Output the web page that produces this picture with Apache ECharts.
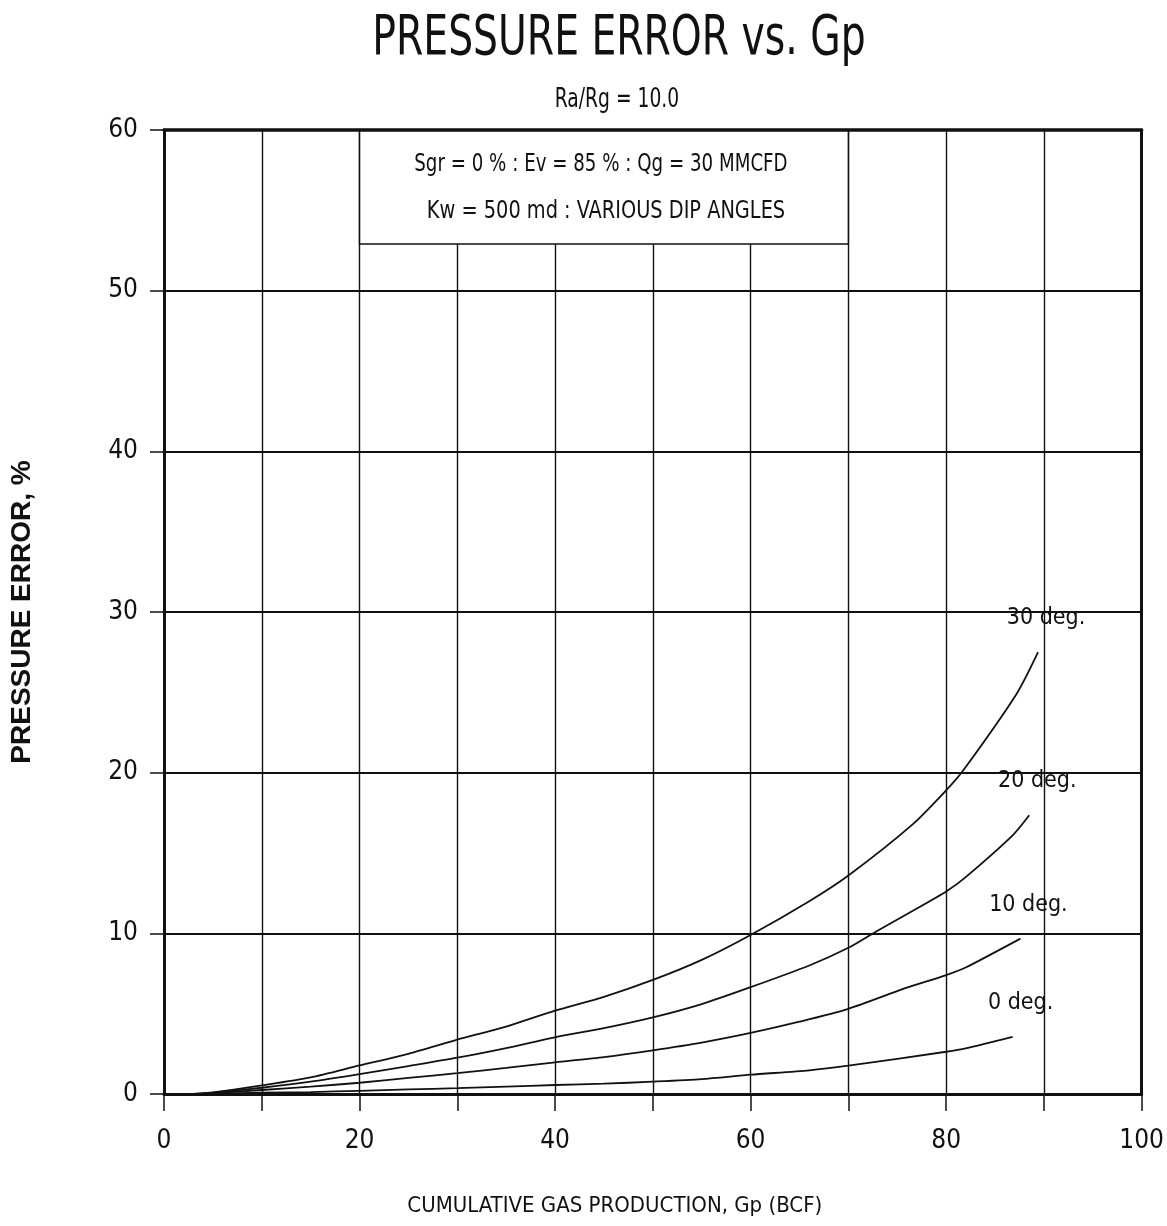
<!DOCTYPE html>
<html>
<head>
<meta charset="utf-8">
<script src="https://cdn.jsdelivr.net/npm/echarts@6/dist/echarts.min.js"></script>
<style>
  html, body { margin: 0; padding: 0; background: #fff; }
  #chart { width: 1167px; height: 1226px; }
</style>
</head>
<body>
<div id="chart"></div>
<script>
// Pressure error (%) against cumulative gas production Gp (BCF), one curve per dip angle.
const dip30 = [[3,0],[5,0.1],[10,0.54],[15,1.04],[20,1.78],[25,2.5],[30,3.38],[35,4.2],[40,5.19],[45,6.05],[50,7.1],[55,8.35],[60,9.9],[66,12.0],[70,13.6],[76.6,16.8],[80,18.9],[81.7,20.1],[87.2,24.9],[89.4,27.5]];
const dip20 = [[3,0],[5,0.08],[10,0.39],[15,0.77],[20,1.24],[25,1.74],[30,2.26],[35,2.86],[40,3.53],[45,4.1],[50,4.77],[55,5.6],[60,6.65],[66,8.0],[70,9.1],[72.8,10.1],[76.6,11.4],[80,12.6],[82,13.5],[86.8,16.1],[88.5,17.35]];
const dip10 = [[3,0],[5,0.05],[10,0.25],[15,0.46],[20,0.7],[25,1.0],[30,1.3],[35,1.62],[40,1.97],[45,2.3],[50,2.72],[55,3.2],[60,3.8],[65,4.5],[70,5.3],[75.9,6.6],[80,7.4],[82,7.87],[87.6,9.67]];
const dip0  = [[3,0],[5,0.02],[10,0.08],[15,0.12],[20,0.2],[25,0.29],[30,0.36],[35,0.46],[40,0.56],[45,0.64],[50,0.77],[55,0.93],[60,1.2],[66,1.47],[70,1.76],[80,2.63],[82,2.84],[86.8,3.56]];

const curveNames = ['30 deg.', '20 deg.', '10 deg.', '0 deg.'];
const curveData = [dip30, dip20, dip10, dip0];

// Note panel in the upper part of the plot (data units)
const noteGp = [20, 70];
const noteErr = [52.9, 60];
const noteLines = ['Sgr = 0 % : Ev = 85 % : Qg = 30 MMCFD', 'Kw = 500 md : VARIOUS DIP ANGLES'];

const titleText = 'PRESSURE ERROR vs. Gp';
const subtitleText = 'Ra/Rg = 10.0';
const xName = 'CUMULATIVE GAS PRODUCTION, Gp (BCF)';
const yName = 'PRESSURE ERROR, %';

const NARROW = '"DejaVu Sans Condensed", "Liberation Sans Narrow", "Liberation Sans", sans-serif';
const INK = '#111';

const chart = echarts.init(document.getElementById('chart'), null, { renderer: 'canvas' });

const series = curveData.map((pts, i) => ({
  name: curveNames[i],
  type: 'line',
  data: pts,
  showSymbol: false,
  smooth: 0.25,
  lineStyle: { color: INK, width: 1.8 },
  z: 3,
  markPoint: {
    symbol: 'circle',
    symbolSize: 0,
    silent: true,
    data: [{ coord: pts[pts.length - 1] }],
    label: {
      show: true,
      formatter: curveNames[i],
      position: 'inside',
      offset: [8, -34],
      color: INK,
      fontFamily: NARROW,
      fontSize: 23
    }
  }
}));

// White note panel hiding the grid behind it
series.push({
  type: 'line',
  data: [],
  z: 4,
  markArea: {
    silent: true,
    itemStyle: { color: '#fff', borderColor: INK, borderWidth: 1.5 },
    data: [[{ coord: [noteGp[0], noteErr[1]] }, { coord: [noteGp[1], noteErr[0]] }]]
  }
});

// Tall, narrow lettering: condensed face squeezed horizontally
function narrowText(text, x, y, size, squeeze) {
  return {
    type: 'text',
    x: x,
    y: y,
    scaleX: squeeze,
    z: 20,
    style: {
      text: text,
      fontFamily: NARROW,
      fontSize: size,
      fill: INK,
      textAlign: 'center',
      textVerticalAlign: 'middle'
    }
  };
}

chart.setOption({
  animation: false,
  backgroundColor: '#fff',
  grid: { left: 163, right: 24, top: 130, bottom: 132, containLabel: false },
  xAxis: [
    {
      type: 'value',
      min: 0,
      max: 100,
      interval: 10,
      name: xName,
      nameLocation: 'middle',
      nameGap: 101,
      nameTextStyle: { fontFamily: NARROW, fontSize: 22, color: INK, padding: [0, 76, 0, 0] },
      axisLine: { show: true, onZero: false, lineStyle: { color: INK, width: 3 } },
      axisTick: { show: true, length: 17, lineStyle: { color: INK, width: 1.5 } },
      axisLabel: {
        margin: 34,
        color: INK,
        fontFamily: NARROW,
        fontSize: 26,
        formatter: v => (v % 20 === 0 ? String(v) : '')
      },
      splitLine: { show: true, lineStyle: { color: INK, width: 1.4 } }
    },
    {
      type: 'value',
      position: 'top',
      min: 0,
      max: 100,
      interval: 10,
      z: 10,
      axisLine: { show: true, onZero: false, lineStyle: { color: INK, width: 3.5 } },
      axisTick: { show: false },
      axisLabel: { show: false },
      splitLine: { show: false }
    }
  ],
  yAxis: [
    {
      type: 'value',
      min: 0,
      max: 60,
      interval: 10,
      name: yName,
      nameLocation: 'middle',
      nameGap: 128,
      nameTextStyle: { fontFamily: '"Liberation Sans", Arial, sans-serif', fontWeight: 'bold', fontSize: 28, color: INK },
      axisLine: { show: true, onZero: false, lineStyle: { color: INK, width: 3 } },
      axisTick: { show: true, length: 14, lineStyle: { color: INK, width: 1.5 } },
      axisLabel: { margin: 26, color: INK, fontFamily: NARROW, fontSize: 26 },
      splitLine: { show: true, lineStyle: { color: INK, width: 2 } }
    },
    {
      type: 'value',
      position: 'right',
      min: 0,
      max: 60,
      interval: 10,
      z: 10,
      axisLine: { show: true, onZero: false, lineStyle: { color: INK, width: 3 } },
      axisTick: { show: false },
      axisLabel: { show: false },
      splitLine: { show: false }
    }
  ],
  series: series
});

// Headings and the note text, placed after the axes are laid out
const noteTop = chart.convertToPixel({ xAxisIndex: 0, yAxisIndex: 0 }, [(noteGp[0] + noteGp[1]) / 2, noteErr[1]]);
const noteBottom = chart.convertToPixel({ xAxisIndex: 0, yAxisIndex: 0 }, [(noteGp[0] + noteGp[1]) / 2, noteErr[0]]);
const noteMidY = (noteTop[1] + noteBottom[1]) / 2;

chart.setOption({
  graphic: [
    narrowText(titleText, 619, 39, 56, 0.78),
    narrowText(subtitleText, 617, 100, 26, 0.8),
    narrowText(noteLines[0], noteTop[0] - 3, noteMidY - 23, 25, 0.81),
    narrowText(noteLines[1], noteTop[0] + 2, noteMidY + 24, 25, 0.86)
  ]
});
</script>
</body>
</html>
